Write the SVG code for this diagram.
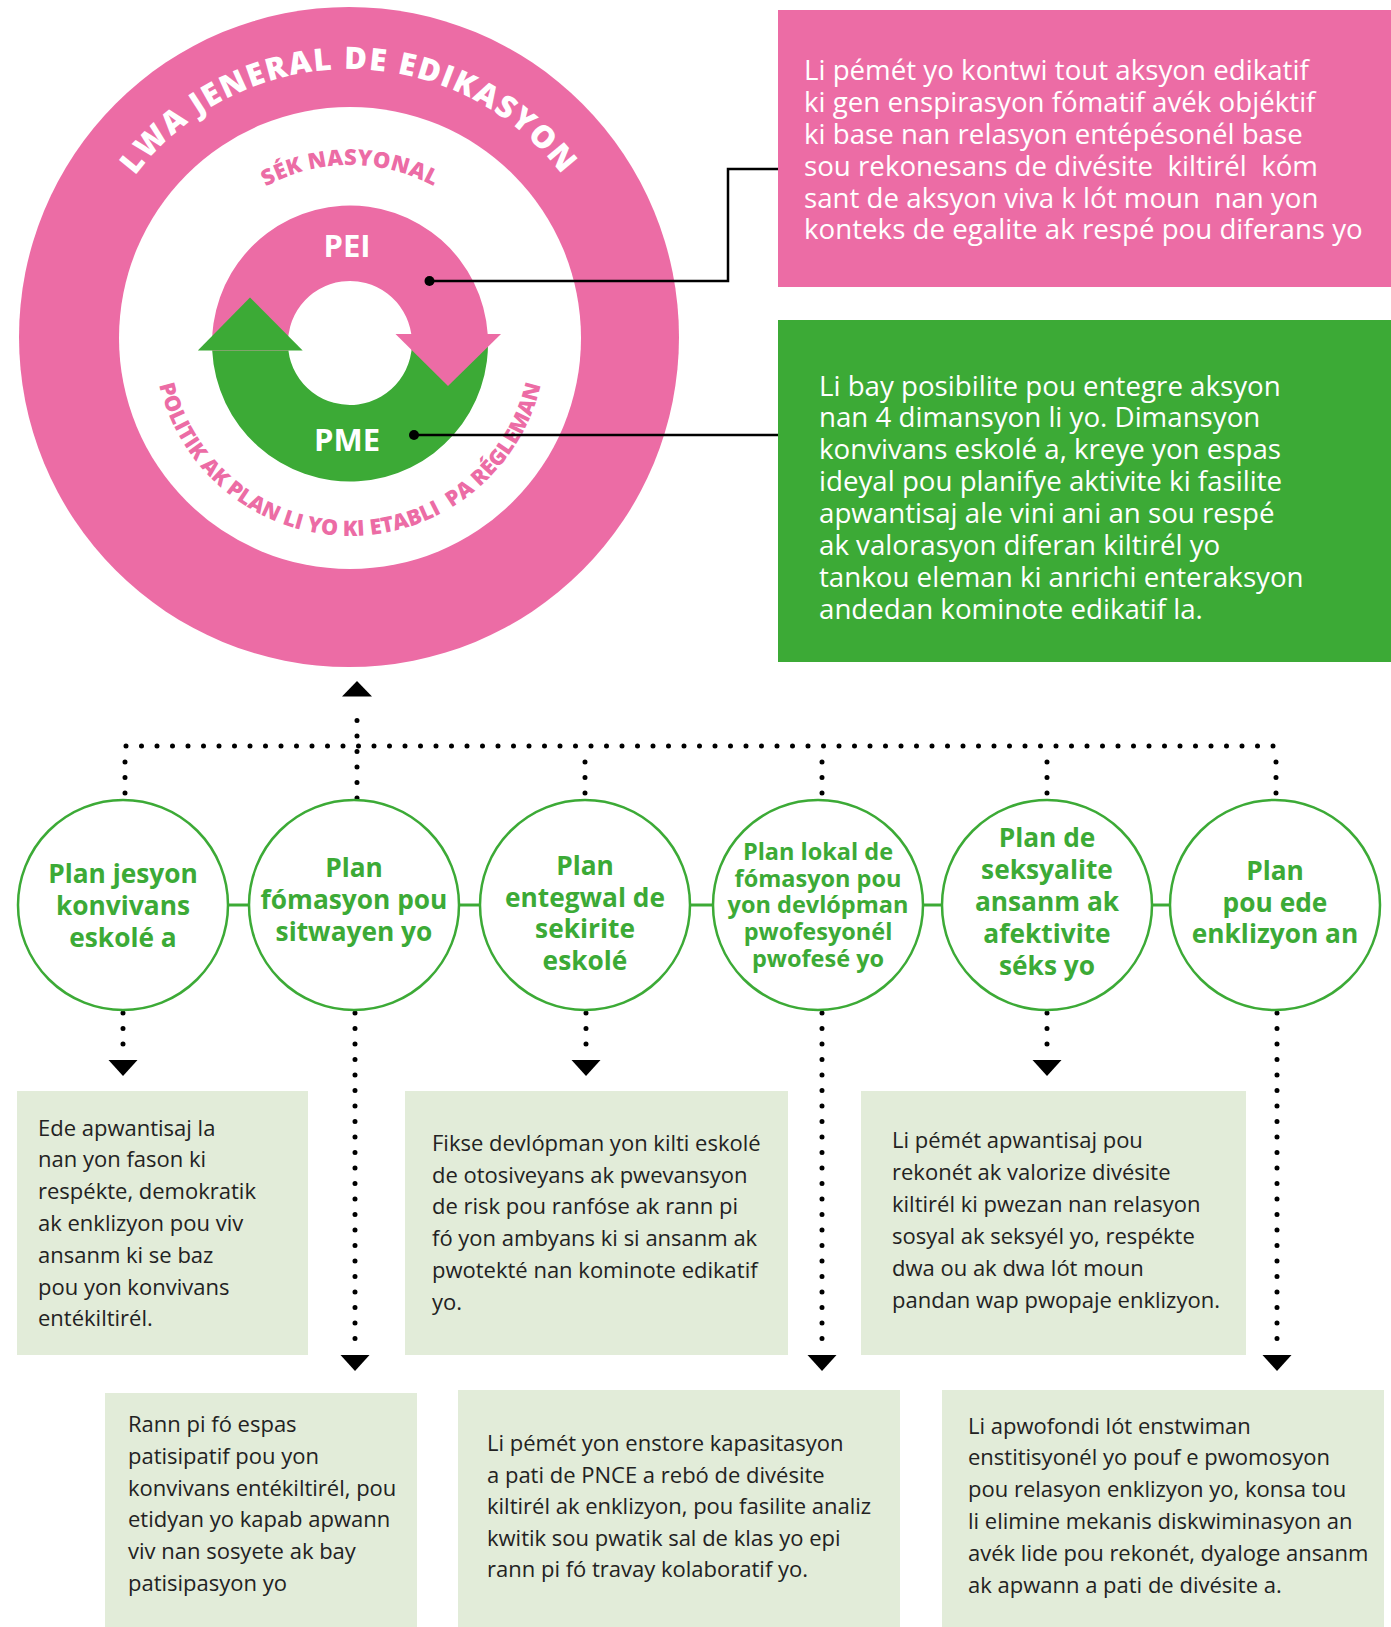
<svg xmlns="http://www.w3.org/2000/svg" width="1391" height="1627" viewBox="0 0 1391 1627">
<style>
text{font-family:"Open Sans","Liberation Sans",sans-serif}
.pink{fill:#ec6ca5}
.green{fill:#3caa36}
.box{fill:#e2ecd9}
.arc{font-weight:800}
.ptxt{fill:#ffffff;font-size:27.7px}
.btxt{fill:#222222;font-size:22px}
.ntxt{fill:#3caa36;font-size:26.3px;font-weight:700;text-anchor:middle}
.node{fill:#ffffff;stroke:#3caa36;stroke-width:2.5}
.dot{stroke:#000;stroke-width:5;stroke-linecap:round;stroke-dasharray:0 15.5;fill:none}
.ah{fill:#000}
.lead{stroke:#000;stroke-width:2.5;fill:none}
</style>
<defs>
<path id="arcTitle" d="M 81 337 A 268 268 0 0 1 617 337"/>
<path id="arcSek" d="M 175 340 A 175 175 0 0 1 525 340"/>
<path id="arcBottom" d="M 154 340 A 196 196 0 0 0 546 340"/>
</defs>

<g id="main-circle">
<circle class="pink" cx="349" cy="337" r="330"/>
<circle cx="350" cy="338" r="231" fill="#ffffff"/>
<text class="arc" fill="#ffffff" font-size="31" letter-spacing="1.8"><textPath href="#arcTitle" startOffset="50%" text-anchor="middle">LWA JENERAL DE EDIKASYON</textPath></text>
<text class="arc" fill="#ec6ca5" font-size="22" letter-spacing="0.3"><textPath href="#arcSek" startOffset="50%" text-anchor="middle">SÉK NASYONAL</textPath></text>
<text class="arc" fill="#ec6ca5" font-size="21.5"><textPath href="#arcBottom" startOffset="50%" text-anchor="middle" xml:space="preserve">POLITIK AK PLAN LI YO KI ETABLI  PA RÉGLEMAN</textPath></text>
</g>

<g id="cycle">
<path class="green" d="M 487.7 334 A 138 138 0 1 1 212.2 350.4 L 288.4 350.4 A 62 62 0 1 0 411.3 334 Z"/>
<path class="pink" d="M 212.2 350.4 A 138 138 0 0 1 487.7 334 L 411.3 334 A 62 62 0 0 0 288.4 350.4 Z"/>
<polygon class="green" points="197.8,350.4 302.7,350.4 250,297.5"/>
<polygon class="pink" points="395.5,334 501,334 448,386"/>
<text x="347" y="257" fill="#ffffff" font-size="31" font-weight="700" text-anchor="middle">PEI</text>
<text x="347" y="451" fill="#ffffff" font-size="31" font-weight="700" text-anchor="middle">PME</text>
</g>

<g id="pei-box">
<rect class="pink" x="778" y="10" width="613" height="277"/>
<text class="ptxt">
<tspan x="804" y="80">Li pémét yo kontwi tout aksyon edikatif</tspan>
<tspan x="804" y="112">ki gen enspirasyon fómatif avék objéktif</tspan>
<tspan x="804" y="144">ki base nan relasyon entépésonél base</tspan>
<tspan x="804" y="176" xml:space="preserve">sou rekonesans de divésite  kiltirél  kóm</tspan>
<tspan x="804" y="208" xml:space="preserve">sant de aksyon viva k lót moun  nan yon</tspan>
<tspan x="804" y="239">konteks de egalite ak respé pou diferans yo</tspan>
</text>
</g>

<g id="pme-box">
<rect class="green" x="778" y="320" width="613" height="342"/>
<text class="ptxt">
<tspan x="819" y="396">Li bay posibilite pou entegre aksyon</tspan>
<tspan x="819" y="427">nan 4 dimansyon li yo. Dimansyon</tspan>
<tspan x="819" y="459">konvivans eskolé a, kreye yon espas</tspan>
<tspan x="819" y="491">ideyal pou planifye aktivite ki fasilite</tspan>
<tspan x="819" y="523">apwantisaj ale vini ani an sou respé</tspan>
<tspan x="819" y="555">ak valorasyon diferan kiltirél yo</tspan>
<tspan x="819" y="587">tankou eleman ki anrichi enteraksyon</tspan>
<tspan x="819" y="619">andedan kominote edikatif la.</tspan>
</text>
</g>

<g id="connectors">
<circle cx="429.5" cy="281" r="5" fill="#000"/>
<polyline class="lead" points="429.5,281 728,281 728,169 778,169"/>
<circle cx="414" cy="435" r="5" fill="#000"/>
<line class="lead" x1="414" y1="435" x2="778" y2="435"/>
<line x1="227" y1="905" x2="250" y2="905" stroke="#3caa36" stroke-width="3"/>
<line x1="459" y1="905" x2="481" y2="905" stroke="#3caa36" stroke-width="3"/>
<line x1="689" y1="905" x2="714" y2="905" stroke="#3caa36" stroke-width="3"/>
<line x1="923" y1="905" x2="942" y2="905" stroke="#3caa36" stroke-width="3"/>
<line x1="1151" y1="905" x2="1171" y2="905" stroke="#3caa36" stroke-width="3"/>
<line class="dot" x1="357" y1="798" x2="357" y2="705"/>
<polygon class="ah" points="342,696.5 372,696.5 357,681"/>
<line class="dot" x1="126" y1="746" x2="1277" y2="746"/>
<line class="dot" x1="125" y1="762" x2="125" y2="799"/>
<line class="dot" x1="585" y1="762" x2="585" y2="799"/>
<line class="dot" x1="822" y1="762" x2="822" y2="799"/>
<line class="dot" x1="1047" y1="762" x2="1047" y2="799"/>
<line class="dot" x1="1276" y1="762" x2="1276" y2="799"/>
<line class="dot" x1="123" y1="1013" x2="123" y2="1050"/>
<polygon class="ah" points="108.5,1060 137.5,1060 123,1076"/>
<line class="dot" x1="586" y1="1013" x2="586" y2="1050"/>
<polygon class="ah" points="571.5,1060 600.5,1060 586,1076"/>
<line class="dot" x1="1047" y1="1013" x2="1047" y2="1050"/>
<polygon class="ah" points="1032.5,1060 1061.5,1060 1047,1076"/>
<line class="dot" x1="355" y1="1013" x2="355" y2="1348"/>
<polygon class="ah" points="340.5,1355 369.5,1355 355,1371"/>
<line class="dot" x1="822" y1="1013" x2="822" y2="1348"/>
<polygon class="ah" points="807.5,1355 836.5,1355 822,1371"/>
<line class="dot" x1="1277" y1="1013" x2="1277" y2="1348"/>
<polygon class="ah" points="1262.5,1355 1291.5,1355 1277,1371"/>
</g>

<g id="node-1">
<circle class="node" cx="123" cy="905" r="105"/>
<text class="ntxt"><tspan x="123" y="883">Plan jesyon</tspan><tspan x="123" y="915">konvivans</tspan><tspan x="123" y="947">eskolé a</tspan></text>
</g>
<g id="node-2">
<circle class="node" cx="354" cy="905" r="105"/>
<text class="ntxt"><tspan x="354" y="877">Plan</tspan><tspan x="354" y="909">fómasyon pou</tspan><tspan x="354" y="941">sitwayen yo</tspan></text>
</g>
<g id="node-3">
<circle class="node" cx="585" cy="905" r="105"/>
<text class="ntxt"><tspan x="585" y="875">Plan</tspan><tspan x="585" y="907">entegwal de</tspan><tspan x="585" y="938">sekirite</tspan><tspan x="585" y="970">eskolé</tspan></text>
</g>
<g id="node-4">
<circle class="node" cx="818" cy="905" r="105"/>
<text class="ntxt" style="font-size:23.5px"><tspan x="818" y="860">Plan lokal de</tspan><tspan x="818" y="887">fómasyon pou</tspan><tspan x="818" y="913">yon devlópman</tspan><tspan x="818" y="940">pwofesyonél</tspan><tspan x="818" y="967">pwofesé yo</tspan></text>
</g>
<g id="node-5">
<circle class="node" cx="1047" cy="905" r="105"/>
<text class="ntxt"><tspan x="1047" y="847">Plan de</tspan><tspan x="1047" y="879">seksyalite</tspan><tspan x="1047" y="911">ansanm ak</tspan><tspan x="1047" y="943">afektivite</tspan><tspan x="1047" y="975">séks yo</tspan></text>
</g>
<g id="node-6">
<circle class="node" cx="1275" cy="905" r="105"/>
<text class="ntxt"><tspan x="1275" y="880">Plan</tspan><tspan x="1275" y="912">pou ede</tspan><tspan x="1275" y="943">enklizyon an</tspan></text>
</g>

<g id="box-1">
<rect class="box" x="17" y="1091" width="291" height="264"/>
<text class="btxt">
<tspan x="38" y="1136">Ede apwantisaj la</tspan>
<tspan x="38" y="1167">nan yon fason ki</tspan>
<tspan x="38" y="1199">respékte, demokratik</tspan>
<tspan x="38" y="1231">ak enklizyon pou viv</tspan>
<tspan x="38" y="1263">ansanm ki se baz</tspan>
<tspan x="38" y="1295">pou yon konvivans</tspan>
<tspan x="38" y="1326">entékiltirél.</tspan>
</text>
</g>
<g id="box-3">
<rect class="box" x="405" y="1091" width="383" height="264"/>
<text class="btxt">
<tspan x="432" y="1151">Fikse devlópman yon kilti eskolé</tspan>
<tspan x="432" y="1183">de otosiveyans ak pwevansyon</tspan>
<tspan x="432" y="1214">de risk pou ranfóse ak rann pi</tspan>
<tspan x="432" y="1246">fó yon ambyans ki si ansanm ak</tspan>
<tspan x="432" y="1278">pwotekté nan kominote edikatif</tspan>
<tspan x="432" y="1310">yo.</tspan>
</text>
</g>
<g id="box-5">
<rect class="box" x="861" y="1091" width="385" height="264"/>
<text class="btxt">
<tspan x="892" y="1148">Li pémét apwantisaj pou</tspan>
<tspan x="892" y="1180">rekonét ak valorize divésite</tspan>
<tspan x="892" y="1212">kiltirél ki pwezan nan relasyon</tspan>
<tspan x="892" y="1244">sosyal ak seksyél yo, respékte</tspan>
<tspan x="892" y="1276">dwa ou ak dwa lót moun</tspan>
<tspan x="892" y="1308">pandan wap pwopaje enklizyon.</tspan>
</text>
</g>
<g id="box-2">
<rect class="box" x="105" y="1393" width="312" height="234"/>
<text class="btxt">
<tspan x="128" y="1432">Rann pi fó espas</tspan>
<tspan x="128" y="1464">patisipatif pou yon</tspan>
<tspan x="128" y="1496">konvivans entékiltirél, pou</tspan>
<tspan x="128" y="1527">etidyan yo kapab apwann</tspan>
<tspan x="128" y="1559">viv nan sosyete ak bay</tspan>
<tspan x="128" y="1591">patisipasyon yo</tspan>
</text>
</g>
<g id="box-4">
<rect class="box" x="458" y="1390" width="442" height="237"/>
<text class="btxt">
<tspan x="487" y="1451">Li pémét yon enstore kapasitasyon</tspan>
<tspan x="487" y="1483">a pati de PNCE a rebó de divésite</tspan>
<tspan x="487" y="1514">kiltirél ak enklizyon, pou fasilite analiz</tspan>
<tspan x="487" y="1546">kwitik sou pwatik sal de klas yo epi</tspan>
<tspan x="487" y="1577">rann pi fó travay kolaboratif yo.</tspan>
</text>
</g>
<g id="box-6">
<rect class="box" x="942" y="1390" width="442" height="237"/>
<text class="btxt">
<tspan x="968" y="1434">Li apwofondi lót enstwiman</tspan>
<tspan x="968" y="1465">enstitisyonél yo pouf e pwomosyon</tspan>
<tspan x="968" y="1497">pou relasyon enklizyon yo, konsa tou</tspan>
<tspan x="968" y="1529">li elimine mekanis diskwiminasyon an</tspan>
<tspan x="968" y="1561">avék lide pou rekonét, dyaloge ansanm</tspan>
<tspan x="968" y="1593">ak apwann a pati de divésite a.</tspan>
</text>
</g>
</svg>
